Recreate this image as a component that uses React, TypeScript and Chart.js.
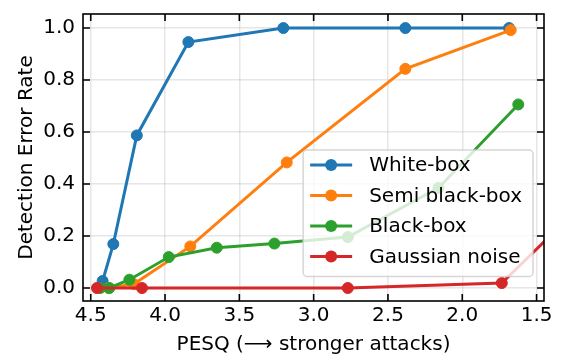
import React, { useEffect, useRef } from "react";
import { Chart, registerables } from "chart.js";

Chart.register(...registerables);

const seriesNames = ["White-box", "Semi black-box", "Black-box", "Gaussian noise"];
const seriesColors = ["#1f77b4", "#ff7f0e", "#2ca02c", "#d62728"];

const whiteX = [4.42, 4.348, 4.19, 3.843, 3.204, 2.383, 1.685];
const whiteY = [0.027, 0.169, 0.587, 0.946, 1.0, 1.0, 1.0];
const semiX = [4.38, 4.21, 3.83, 3.181, 2.383, 1.674];
const semiY = [0.0, 0.015, 0.16, 0.483, 0.843, 0.992];
const blackX = [4.437, 4.375, 4.24, 3.975, 3.652, 3.264, 2.77, 2.16, 1.623];
const blackY = [0.0, 0.0, 0.032, 0.119, 0.155, 0.171, 0.196, 0.385, 0.706];
const gaussX = [4.458, 4.155, 2.77, 1.734, 1.4];
const gaussY = [0.0, 0.0, 0.0, 0.019, 0.205];

const xTicks = [4.5, 4.0, 3.5, 3.0, 2.5, 2.0, 1.5];
const yTicks = [0.0, 0.2, 0.4, 0.6, 0.8, 1.0];

const xTitle = "PESQ (\u27F6 stronger attacks)";
const yTitle = "Detection Error Rate";

const FONT = "'DejaVu Sans', 'Noto Sans', sans-serif";

const allX = [whiteX, semiX, blackX, gaussX];
const allY = [whiteY, semiY, blackY, gaussY];

const framePlugin = {
  id: "frame",
  afterDatasetsDraw(chart: any) {
    const { ctx, chartArea: a, scales } = chart;
    ctx.save();
    ctx.strokeStyle = "#000";
    ctx.lineWidth = 1.6;
    ctx.strokeRect(a.left, a.top, a.right - a.left, a.bottom - a.top);
    const tl = 7;
    ctx.beginPath();
    for (const v of xTicks) {
      const px = scales.x.getPixelForValue(v);
      ctx.moveTo(px, a.bottom);
      ctx.lineTo(px, a.bottom - tl);
      ctx.moveTo(px, a.top);
      ctx.lineTo(px, a.top + tl);
    }
    for (const v of yTicks) {
      const py = scales.y.getPixelForValue(v);
      ctx.moveTo(a.left, py);
      ctx.lineTo(a.left + tl, py);
      ctx.moveTo(a.right, py);
      ctx.lineTo(a.right - tl, py);
    }
    ctx.stroke();
    ctx.restore();
  },
};

const legendPlugin = {
  id: "innerLegend",
  afterDraw(chart: any) {
    const { ctx, chartArea: a } = chart;
    ctx.save();
    ctx.font = `20px ${FONT}`;
    const maxW = Math.max(...seriesNames.map((n) => ctx.measureText(n).width));
    const rowH = 30.5;
    const boxRight = a.right - 11;
    const boxBottom = a.bottom - 24.5;
    const boxH = rowH * seriesNames.length + 4.5;
    const boxW = 66 + maxW + 11;
    const boxLeft = boxRight - boxW;
    const boxTop = boxBottom - boxH;
    ctx.beginPath();
    ctx.roundRect(boxLeft, boxTop, boxW, boxH, 4);
    ctx.fillStyle = "rgba(255,255,255,0.8)";
    ctx.fill();
    ctx.strokeStyle = "rgba(204,204,204,0.8)";
    ctx.lineWidth = 1.5;
    ctx.stroke();
    seriesNames.forEach((name, i) => {
      const cy = boxTop + 15 + i * rowH;
      const x1 = boxLeft + 7;
      const x2 = boxLeft + 49;
      ctx.strokeStyle = seriesColors[i];
      ctx.lineWidth = 3;
      ctx.beginPath();
      ctx.moveTo(x1, cy);
      ctx.lineTo(x2, cy);
      ctx.stroke();
      ctx.fillStyle = seriesColors[i];
      ctx.beginPath();
      ctx.arc((x1 + x2) / 2, cy, 6, 0, Math.PI * 2);
      ctx.fill();
      ctx.fillStyle = "#000";
      ctx.textAlign = "left";
      ctx.textBaseline = "middle";
      ctx.fillText(name, boxLeft + 66, cy + 1);
    });
    ctx.restore();
  },
};

export default function App() {
  const ref = useRef<HTMLCanvasElement>(null);
  useEffect(() => {
    Chart.defaults.font.family = FONT;
    const datasets = seriesNames.map((name, i) => ({
      label: name,
      data: allX[i].map((x, j) => ({ x, y: allY[i][j] })),
      borderColor: seriesColors[i],
      backgroundColor: seriesColors[i],
      pointBackgroundColor: seriesColors[i],
      pointBorderColor: seriesColors[i],
      borderWidth: 3,
      pointRadius: 5.5,
      pointBorderWidth: 1,
      fill: false,
      tension: 0,
      order: seriesNames.length - i,
    }));
    const chart = new Chart(ref.current as HTMLCanvasElement, {
      type: "line",
      data: { datasets },
      plugins: [framePlugin, legendPlugin],
      options: {
        animation: false,
        responsive: false,
        layout: { padding: { left: 0, right: 24, top: 14, bottom: 0 } },
        plugins: { legend: { display: false }, tooltip: { enabled: false } },
        scales: {
          x: {
            type: "linear",
            reverse: true,
            min: 1.45,
            max: 4.552,
            afterBuildTicks: (s: any) => {
              s.ticks = xTicks.map((v) => ({ value: v }));
            },
            afterFit: (s: any) => {
              s.height = 56;
              s.paddingLeft = 0;
              s.paddingRight = 0;
            },
            ticks: {
              color: "#000",
              font: { size: 20 },
              padding: 3,
              maxRotation: 0,
              autoSkip: false,
              callback: (v: any) => Number(v).toFixed(1),
            },
            grid: { color: "rgba(176,176,176,0.32)", lineWidth: 1.5, drawTicks: false },
            border: { display: false },
            title: {
              display: true,
              text: xTitle,
              color: "#000",
              font: { size: 20, lineHeight: 1.2 },
              padding: { top: 0, bottom: 0 },
            },
          },
          y: {
            type: "linear",
            min: -0.05,
            max: 1.054,
            afterBuildTicks: (s: any) => {
              s.ticks = yTicks.map((v) => ({ value: v }));
            },
            afterFit: (s: any) => {
              s.width = 83;
              s.paddingTop = 0;
              s.paddingBottom = 0;
            },
            ticks: {
              color: "#000",
              font: { size: 20 },
              padding: 8,
              autoSkip: false,
              callback: (v: any) => Number(v).toFixed(1),
            },
            grid: { color: "rgba(176,176,176,0.32)", lineWidth: 1.5, drawTicks: false },
            border: { display: false },
            title: {
              display: true,
              text: yTitle,
              color: "#000",
              font: { size: 20, lineHeight: 1.2 },
              padding: { top: 15, bottom: 0 },
            },
          },
        },
      } as any,
    });
    return () => chart.destroy();
  }, []);
  return (
    <div style={{ position: "absolute", left: 0, top: 0, width: 568, height: 357, background: "#fff" }}>
      <canvas ref={ref} width={568} height={357} style={{ display: "block", width: 568, height: 357 }} />
    </div>
  );
}
